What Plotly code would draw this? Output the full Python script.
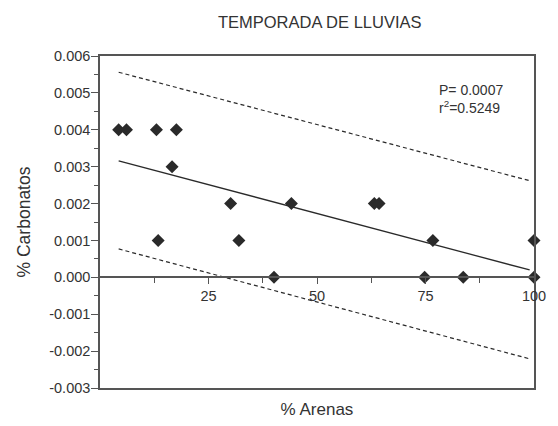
import plotly.graph_objects as go

# Data
arenas = [4.3, 6.1, 13.0, 17.6, 16.6, 13.4, 30.1, 44.1, 63.2, 64.3, 32.0, 40.1, 76.7, 74.8, 83.7, 100.0, 100.0]
carbonatos = [0.004, 0.004, 0.004, 0.004, 0.003, 0.001, 0.002, 0.002, 0.002, 0.002, 0.001, 0.000, 0.001, 0.000, 0.000, 0.001, 0.000]

line_x = [4.3, 99.0]
fit_y = [0.00316, 0.00020]
upper_y = [0.00556, 0.00262]
lower_y = [0.00077, -0.00221]

y_ticks = [-0.003, -0.002, -0.001, 0.0, 0.001, 0.002, 0.003, 0.004, 0.005, 0.006]
y_ticktext = ["-0.003", "-0.002", "-0.001", "0.000", "0.001", "0.002", "0.003", "0.004", "0.005", "0.006"]
x_ticks = [25, 50, 75, 100]
x_ticktext = ["25", "50", "75", "100"]

INK = "#2a2a2a"
AX = "#555555"
FONT = "Liberation Sans, Arial, sans-serif"

fig = go.Figure()
fig.add_trace(go.Scatter(x=line_x, y=upper_y, mode="lines",
                         line=dict(color=INK, width=1.2, dash="4px,3px"), showlegend=False))
fig.add_trace(go.Scatter(x=line_x, y=lower_y, mode="lines",
                         line=dict(color=INK, width=1.2, dash="4px,3px"), showlegend=False))
fig.add_trace(go.Scatter(x=line_x, y=fit_y, mode="lines",
                         line=dict(color=INK, width=1.3), showlegend=False))
fig.add_trace(go.Scatter(x=arenas, y=carbonatos, mode="markers",
                         marker=dict(symbol="diamond", size=10, color=INK), showlegend=False,
                         cliponaxis=False))
# invisible trace to keep the zero-line axis alive
fig.add_trace(go.Scatter(x=[50], y=[0], xaxis="x2", yaxis="y", mode="markers",
                         marker=dict(opacity=0), showlegend=False, hoverinfo="skip"))

fig.update_layout(
    width=558, height=426,
    margin=dict(l=100, r=17, t=56, b=38),
    paper_bgcolor="white", plot_bgcolor="white",
    font=dict(family=FONT, color="#333333", size=14),
    title=dict(text="TEMPORADA DE LLUVIAS", x=0.573, xanchor="center", y=0.948, yanchor="middle",
               font=dict(size=16.5, color="#333333", family=FONT)),
    xaxis=dict(range=[0, 100], showline=True, linecolor=AX, linewidth=1.5, mirror=True,
               showticklabels=False, ticks="", showgrid=False, zeroline=False,
               title=dict(text="% Arenas", font=dict(size=17, color="#333333"), standoff=14)),
    xaxis2=dict(range=[0, 100], overlaying="x", anchor="free", position=1/3, side="bottom",
                showline=True, linecolor=AX, linewidth=1.5, showgrid=False, zeroline=False,
                tickvals=x_ticks, ticktext=x_ticktext, ticks="outside", ticklen=6,
                tickcolor=AX, tickwidth=1.3, tickfont=dict(size=14.5, color="#333333"),
                minor=dict(tickvals=[12.5, 37.5, 62.5, 87.5], ticks="outside", ticklen=5,
                           tickcolor=AX, tickwidth=1.3)),
    yaxis=dict(range=[-0.003, 0.006], showline=True, linecolor=AX, linewidth=1.5, mirror=True,
               tickvals=y_ticks, ticktext=y_ticktext, ticks="outside", ticklen=7,
               tickcolor=AX, tickwidth=1.3, showgrid=False, zeroline=False,
               ticklabelstandoff=-2,
               tickfont=dict(size=14.5, color="#333333"),
               minor=dict(dtick=0.0005, ticks="outside", ticklen=4, tickcolor=AX, tickwidth=1.3),
               title=dict(text="% Carbonatos", font=dict(size=17.5, color="#333333"), standoff=14)),
    annotations=[dict(x=77.7, y=0.00534, xref="x", yref="y", xanchor="left", yanchor="top",
                      align="left", showarrow=False,
                      text="P= 0.0007<br>r<sup>2</sup>=0.5249",
                      font=dict(size=14, color="#333333"))],
)

fig.write_html("out.html")
